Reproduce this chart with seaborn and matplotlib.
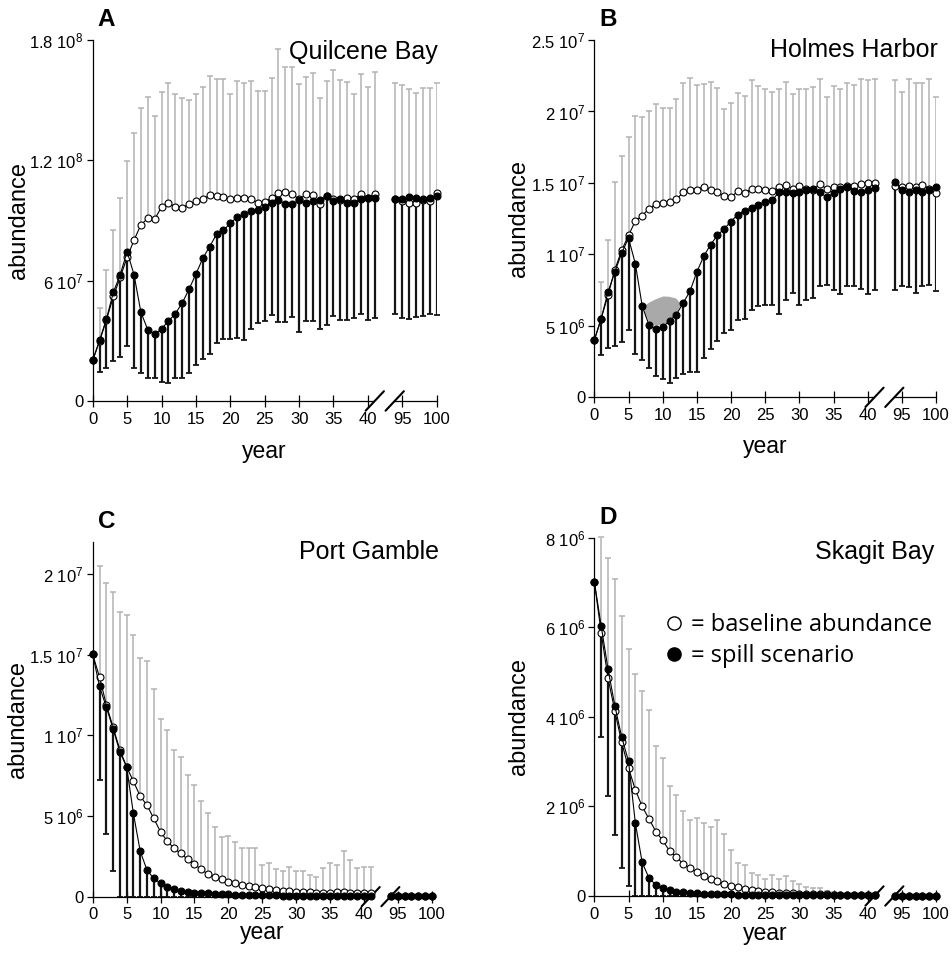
import numpy as np
import pandas as pd
import matplotlib
matplotlib.use("Agg")
import matplotlib.pyplot as plt
from matplotlib.lines import Line2D
import seaborn as sns

# years simulated; the axis is broken between 41 and 94
years = list(range(0, 42)) + list(range(94, 101))
xtick_pos = [0, 5, 10, 15, 20, 25, 30, 35, 40, 45, 50]
xtick_labels = ['0', '5', '10', '15', '20', '25', '30', '35', '40', '95', '100']

# A - Quilcene Bay (units of 1e7)
quil_base = [2.03, 2.99, 4.05, 5.21, 6.17, 7.16, 8.02, 8.78, 9.11, 9.06, 9.67, 9.88, 9.67, 9.64,
             9.80, 9.97, 10.05, 10.26, 10.20, 10.18, 10.05, 10.13, 10.10, 10.08, 9.88, 9.92, 10.13,
             10.38, 10.41, 10.33, 10.05, 10.30, 10.26, 9.83, 10.21, 10.05, 10.02, 10.10, 10.05,
             10.33, 10.13, 10.33,
             10.05, 9.97, 9.88, 9.88, 10.02, 9.97, 10.38]
quil_base_hi = [2.03, 4.63, 6.53, 8.51, 10.13, 11.95, 13.36, 14.60, 15.14, 14.23, 15.42, 15.88,
                15.29, 15.09, 15.01, 15.31, 15.64, 16.18, 16.03, 16.05, 15.29, 15.95, 15.87, 15.95,
                15.45, 15.45, 16.12, 17.57, 16.66, 16.66, 15.79, 16.17, 16.33, 15.09, 15.95, 16.50,
                16.00, 15.92, 15.31, 16.28, 15.67, 16.41,
                15.87, 15.75, 15.55, 15.34, 15.59, 15.59, 15.88]
quil_spill = [2.03, 3.02, 4.10, 5.42, 6.30, 7.45, 6.30, 4.43, 3.55, 3.32, 3.60, 3.98, 4.35, 4.88,
              5.57, 6.33, 7.11, 7.70, 8.31, 8.51, 8.86, 9.17, 9.31, 9.47, 9.54, 9.69, 9.85, 10.03,
              9.80, 9.80, 10.02, 9.88, 9.97, 10.00, 10.21, 9.97, 10.05, 9.85, 9.85, 10.05, 10.10,
              10.13,
              10.05, 10.08, 10.17, 10.13, 10.08, 10.13, 10.21]
quil_spill_lo = [2.03, 1.45, 1.65, 1.98, 2.20, 2.73, 1.62, 1.37, 1.16, 1.12, 0.96, 0.88, 1.12, 1.16,
                 1.40, 1.79, 2.08, 2.36, 2.91, 3.11, 3.11, 3.16, 3.02, 3.60, 3.88, 3.98, 4.31, 3.93,
                 3.93, 4.21, 3.44, 3.98, 3.98, 3.60, 3.77, 4.26, 4.05, 4.05, 4.15, 4.35, 4.02, 4.15,
                 4.35, 4.15, 4.10, 4.18, 4.26, 4.35, 4.31]

# B - Holmes Harbor (units of 1e6)
holm_base = [4.0, 5.51, 7.14, 8.93, 10.28, 11.33, 12.33, 12.72, 13.19, 13.53, 13.60, 13.65, 13.84,
             14.35, 14.47, 14.53, 14.74, 14.51, 14.35, 14.05, 14.0, 14.42, 14.28, 14.58, 14.58,
             14.51, 14.42, 14.70, 14.86, 14.58, 14.81, 14.58, 14.51, 14.93, 14.58, 14.74, 14.70,
             14.81, 14.81, 14.93, 14.98, 14.98,
             14.81, 14.70, 14.81, 14.70, 14.88, 14.58, 14.28]
holm_base_hi = [4.0, 8.07, 11.02, 15.05, 16.91, 18.19, 19.70, 19.58, 20.05, 20.51, 20.23, 20.23,
                20.86, 22.02, 22.33, 21.84, 21.95, 22.07, 21.67, 20.16, 20.56, 21.28, 21.09, 22.21,
                21.79, 21.60, 21.33, 21.60, 22.09, 21.21, 21.56, 21.56, 21.72, 22.26, 21.02, 21.79,
                21.56, 22.02, 21.84, 22.26, 22.19, 22.26,
                22.19, 21.33, 22.26, 22.02, 22.02, 22.26, 21.02]
holm_spill = [4.0, 5.51, 7.37, 8.77, 10.09, 11.14, 9.35, 6.40, 5.05, 4.77, 4.93, 5.35, 5.79, 6.60,
              7.42, 8.77, 9.86, 10.67, 11.33, 11.79, 12.30, 12.79, 13.07, 13.23, 13.47, 13.70,
              13.77, 14.35, 14.35, 14.28, 14.35, 14.47, 14.58, 14.35, 14.0, 14.28, 14.58, 14.70,
              14.42, 14.35, 14.51, 14.63,
              15.05, 14.51, 14.35, 14.51, 14.35, 14.51, 14.70]
holm_spill_lo = [4.0, 2.95, 3.42, 3.58, 3.88, 4.74, 3.0, 2.60, 2.02, 1.49, 1.26, 0.98, 1.37, 1.60,
                 1.79, 1.79, 2.72, 3.35, 3.93, 4.53, 4.74, 5.44, 5.51, 6.09, 6.37, 6.44, 6.49, 5.86,
                 6.79, 7.30, 6.49, 6.79, 6.95, 7.79, 7.88, 7.53, 7.26, 7.79, 7.79, 7.60, 7.26, 7.49,
                 7.53, 7.77, 7.72, 7.30, 7.77, 7.84, 7.44]
# shaded patch in panel B
holm_patch_year = [7.3, 8.0, 9.0, 10.0, 10.9, 11.9, 12.6]
holm_patch_lo = [5.98, 5.21, 5.05, 5.12, 5.40, 5.86, 6.51]
holm_patch_hi = [6.44, 6.67, 6.91, 7.09, 7.07, 6.95, 6.56]

# C - Port Gamble (units of 1e6)
port_base = [15.01, 13.61, 11.9, 10.5, 9.11, 8.04, 7.15, 6.23, 5.67, 4.85, 4.02, 3.44, 2.99, 2.68,
             2.31, 2.00, 1.69, 1.40, 1.24, 1.07, 0.93, 0.82, 0.72, 0.66, 0.62, 0.52, 0.45, 0.41,
             0.37, 0.33, 0.31, 0.29, 0.27, 0.25, 0.25, 0.25, 0.27, 0.27, 0.25, 0.25, 0.21, 0.21,
             0.04, 0.04, 0.04, 0.04, 0.04, 0.04, 0.04]
port_base_hi = [15.01, 20.52, 19.42, 18.91, 17.63, 17.46, 16.23, 14.78, 14.60, 12.89, 11.03, 10.31,
                9.11, 8.66, 7.57, 6.91, 5.94, 5.16, 4.33, 3.71, 3.75, 3.40, 2.99, 3.03, 3.03, 1.96,
                2.06, 1.69, 1.59, 1.81, 1.61, 1.61, 1.34, 1.24, 1.75, 2.10, 1.96, 2.85, 2.27, 1.75,
                1.86, 1.86,
                0.04, 0.04, 0.04, 0.04, 0.04, 0.04, 0.04]
port_spill = [15.01, 13.03, 11.75, 10.41, 8.97, 8.04, 5.16, 2.82, 1.65, 1.13, 0.82, 0.62, 0.47,
              0.35, 0.29, 0.25, 0.22, 0.20, 0.18, 0.16, 0.15, 0.13, 0.12, 0.11, 0.10, 0.09, 0.08,
              0.08, 0.07, 0.07, 0.06, 0.06, 0.05, 0.05, 0.05, 0.04, 0.04, 0.04, 0.04, 0.03, 0.03,
              0.03,
              0.02, 0.02, 0.02, 0.02, 0.02, 0.02, 0.02]
port_spill_lo = [15.01, 7.22, 3.86, 1.61, 0, 0, 0, 0, 0, 0, 0, 0, 0, 0, 0, 0, 0, 0, 0, 0, 0, 0, 0,
                 0, 0, 0, 0, 0, 0, 0, 0, 0, 0, 0, 0, 0, 0, 0, 0, 0, 0, 0,
                 0, 0, 0, 0, 0, 0, 0]

# D - Skagit Bay (units of 1e6)
skag_base = [7.02, 5.88, 4.87, 4.13, 3.43, 2.86, 2.37, 2.00, 1.72, 1.44, 1.24, 1.01, 0.87, 0.72,
             0.62, 0.54, 0.45, 0.38, 0.34, 0.26, 0.22, 0.19, 0.16, 0.13, 0.11, 0.10, 0.08, 0.07,
             0.07, 0.06, 0.05, 0.05, 0.04, 0.04, 0.04, 0.03, 0.03, 0.03, 0.03, 0.02, 0.02, 0.02,
             0.01, 0.01, 0.01, 0.01, 0.01, 0.01, 0.01]
skag_base_hi = [7.02, 8.02, 7.55, 7.07, 6.25, 5.51, 4.96, 4.57, 4.16, 3.36, 3.08, 2.45, 2.26, 1.89,
                1.70, 1.74, 1.63, 1.54, 1.69, 1.38, 1.03, 0.73, 0.69, 0.51, 0.46, 0.37, 0.47, 0.37,
                0.45, 0.34, 0.26, 0.21, 0.17, 0.17, 0.12, 0.08, 0.06, 0.05, 0.05, 0.04, 0.03, 0.03,
                0.01, 0.01, 0.01, 0.01, 0.01, 0.01, 0.01]
skag_spill = [7.02, 6.03, 5.07, 4.25, 3.55, 3.01, 1.63, 0.75, 0.40, 0.25, 0.17, 0.13, 0.10, 0.08,
              0.07, 0.06, 0.05, 0.05, 0.04, 0.04, 0.04, 0.03, 0.03, 0.03, 0.03, 0.03, 0.02, 0.02,
              0.02, 0.02, 0.02, 0.02, 0.02, 0.02, 0.02, 0.02, 0.02, 0.02, 0.02, 0.02, 0.02, 0.02,
              0.01, 0.01, 0.01, 0.01, 0.01, 0.01, 0.01]
skag_spill_lo = [7.02, 3.54, 2.24, 1.37, 0.62, 0.22, 0, 0, 0, 0, 0, 0, 0, 0, 0, 0, 0, 0, 0, 0, 0,
                 0, 0, 0, 0, 0, 0, 0, 0, 0, 0, 0, 0, 0, 0, 0, 0, 0, 0, 0, 0, 0,
                 0, 0, 0, 0, 0, 0, 0]

GREY = '#b3b3b3'
DARK = '#151515'


def year_to_pos(y):
    """Position on the broken axis: 95 sits at 45, 100 at 50."""
    y = np.asarray(y, dtype=float)
    return np.where(y > 41, y - 50, y)


def draw_panel(ax, base, base_hi, spill, spill_lo, scale):
    df = pd.DataFrame({
        'pos': year_to_pos(years),
        'base': np.array(base) * scale,
        'base_hi': np.array(base_hi) * scale,
        'spill': np.array(spill) * scale,
        'spill_lo': np.array(spill_lo) * scale,
        'seg': np.where(np.array(years) > 41, 'post', 'pre'),
    })

    # grey upper bars for the baseline runs
    up = df[df['base_hi'] > df['base']]
    ax.vlines(up['pos'], up['base'], up['base_hi'], color=GREY, lw=1.1, zorder=1)
    ax.plot(up['pos'], up['base_hi'], ls='none', marker='_', ms=5, mew=1.1,
            color=GREY, zorder=1, clip_on=False)

    # black lower bars for the spill runs
    dn = df[df['spill_lo'] < df['spill']]
    ax.vlines(dn['pos'], dn['spill_lo'], dn['spill'], color=DARK, lw=1.6, zorder=2)
    ax.plot(dn['pos'], dn['spill_lo'], ls='none', marker='_', ms=5, mew=1.3,
            color=DARK, zorder=2, clip_on=False)

    sns.lineplot(data=df, x='pos', y='base', units='seg', estimator=None, ax=ax,
                 color='black', linewidth=0.8, marker='o', markersize=5,
                 markerfacecolor='white', markeredgecolor='black', markeredgewidth=0.8,
                 zorder=3, clip_on=False, legend=False)
    sns.lineplot(data=df, x='pos', y='spill', units='seg', estimator=None, ax=ax,
                 color='black', linewidth=0.8, marker='o', markersize=5,
                 markerfacecolor='black', markeredgecolor='black', markeredgewidth=0.8,
                 zorder=4, clip_on=False, legend=False)


def style_axis(ax, ymax, yticks, ylabels):
    ax.set_xlim(0, 50)
    ax.set_ylim(0, ymax)
    for side in ['top', 'right']:
        ax.spines[side].set_visible(False)
    for side in ['left', 'bottom']:
        ax.spines[side].set_linewidth(0.9)
        ax.spines[side].set_color('black')
    ax.set_xticks(xtick_pos, xtick_labels)
    ax.set_yticks(yticks, ylabels)
    ax.tick_params(axis='x', direction='inout', length=8.5, width=0.9, labelsize=12, pad=3.5,
                   colors='black')
    ax.tick_params(axis='y', direction='out', length=4.5, width=0.9, labelsize=12, pad=2,
                   colors='black')
    ax.set_xlabel('year', fontsize=16.5, color='black')
    ax.set_ylabel('abundance', fontsize=17, color='black')
    ax.xaxis.label.set_va('center')
    ax.yaxis.label.set_va('center')

    # break marks on the x axis
    xa = ax.get_xaxis_transform()
    ax.plot([41.1, 43.8], [0, 0], transform=xa, color='white', lw=3, zorder=2.6,
            solid_capstyle='butt', clip_on=False)
    for cx in [41.0, 43.9]:
        ax.plot([cx - 1.33, cx + 1.33], [-0.027, 0.027], transform=xa, color='black',
                lw=1.5, zorder=2.7, clip_on=False)


sns.set_style('ticks')
plt.rcParams['font.family'] = ['Liberation Sans', 'DejaVu Sans']
plt.rcParams['mathtext.default'] = 'regular'
plt.rcParams['text.color'] = 'black'
plt.rcParams['axes.labelcolor'] = 'black'

fig = plt.figure(figsize=(9.52, 9.59), dpi=100)

panels = [
    dict(rect=[0.0974, 0.5819, 0.3613, 0.3764], data=(quil_base, quil_base_hi, quil_spill, quil_spill_lo),
         scale=1e7, ymax=1.8e8, yticks=[0, 6e7, 1.2e8, 1.8e8],
         ylabels=['0', '6 10$^{7}$', '1.2 10$^{8}$', '1.8 10$^{8}$'],
         letter='A', name='Quilcene Bay', name_xy=(1.004, 0.968), ylab=(-0.215, 0.5), xlab=(0.5, -0.14)),
    dict(rect=[0.6243, 0.5857, 0.3589, 0.3726], data=(holm_base, holm_base_hi, holm_spill, holm_spill_lo),
         scale=1e6, ymax=2.5e7, yticks=[0, 5e6, 1e7, 1.5e7, 2e7, 2.5e7],
         ylabels=['0', '5 10$^{6}$', '1 10$^{7}$', '1.5 10$^{7}$', '2 10$^{7}$', '2.5 10$^{7}$'],
         letter='B', name='Holmes Harbor', name_xy=(1.005, 0.972), ylab=(-0.22, 0.5), xlab=(0.5, -0.138)),
    dict(rect=[0.0974, 0.0650, 0.3561, 0.3702], data=(port_base, port_base_hi, port_spill, port_spill_lo),
         scale=1e6, ymax=2.2e7, yticks=[0, 5e6, 1e7, 1.5e7, 2e7],
         ylabels=['0', '5 10$^{6}$', '1 10$^{7}$', '1.5 10$^{7}$', '2 10$^{7}$'],
         letter='C', name='Port Gamble', name_xy=(1.022, 0.972), ylab=(-0.22, 0.5), xlab=(0.5, -0.1)),
    dict(rect=[0.6243, 0.0657, 0.3589, 0.3736], data=(skag_base, skag_base_hi, skag_spill, skag_spill_lo),
         scale=1e6, ymax=8e6, yticks=[0, 2e6, 4e6, 6e6, 8e6],
         ylabels=['0', '2 10$^{6}$', '4 10$^{6}$', '6 10$^{6}$', '8 10$^{6}$'],
         letter='D', name='Skagit Bay', name_xy=(0.995, 0.961), ylab=(-0.22, 0.5), xlab=(0.5, -0.104)),
]

axes = []
for p in panels:
    ax = fig.add_axes(p['rect'])
    draw_panel(ax, *p['data'], p['scale'])
    style_axis(ax, p['ymax'], p['yticks'], p['ylabels'])
    ax.xaxis.set_label_coords(*p['xlab'])
    ax.yaxis.set_label_coords(*p['ylab'])
    ax.text(0.015, 1.056, p['letter'], transform=ax.transAxes, fontsize=17.5,
            fontweight='bold', ha='left', va='center')
    ax.text(p['name_xy'][0], p['name_xy'][1], p['name'], transform=ax.transAxes,
            fontsize=18, ha='right', va='center')
    axes.append(ax)

# shaded patch in Holmes Harbor
axes[1].fill_between(year_to_pos(holm_patch_year), np.array(holm_patch_lo) * 1e6,
                     np.array(holm_patch_hi) * 1e6, color='#a9a9a9', lw=0, zorder=2.5)

# legend in Skagit Bay panel
handles = [
    Line2D([], [], ls='none', marker='o', ms=9.5, mfc='white', mec='black', mew=1.0),
    Line2D([], [], ls='none', marker='o', ms=9.5, mfc='black', mec='black', mew=1.0),
]
axes[3].legend(handles, ['= baseline abundance', '= spill scenario'], loc='upper left',
               bbox_to_anchor=(0.21, 0.79), frameon=False, handlelength=0.7,
               handletextpad=0.35, labelspacing=0.3, borderpad=0, borderaxespad=0,
               prop={'family': ['Open Sans', 'DejaVu Sans'], 'size': 17})

fig.savefig('out.png', dpi=100)
